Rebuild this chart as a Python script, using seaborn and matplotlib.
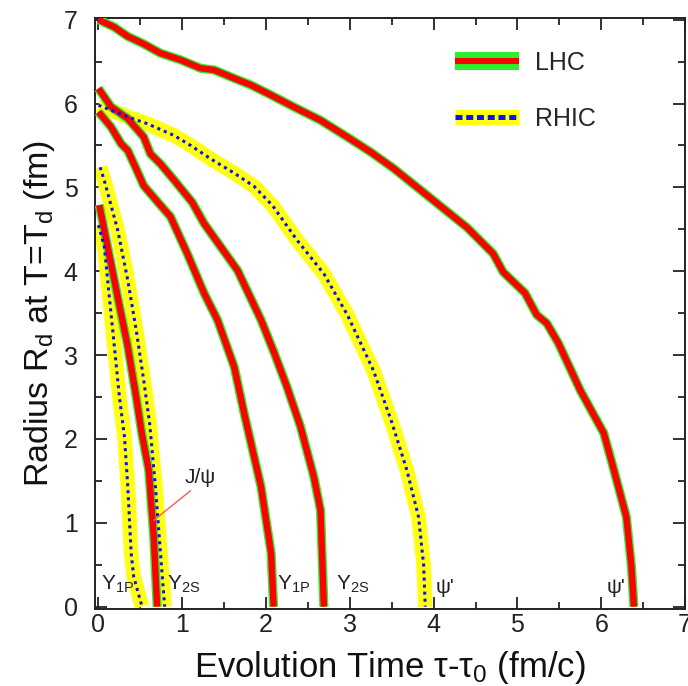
import numpy as np
import pandas as pd
import matplotlib
matplotlib.use("Agg")
import matplotlib.pyplot as plt
import seaborn as sns
from matplotlib.lines import Line2D
from matplotlib.legend_handler import HandlerTuple
from matplotlib.ticker import MultipleLocator

# ---------------- data ----------------
# LHC curves (time tau - tau0 in fm/c, radius R_d in fm)
lhc_psi2_t = [0.0, 0.19, 0.35, 0.54, 0.74, 0.98, 1.22, 1.38, 1.62, 1.82, 2.06, 2.33, 2.65, 2.97,
              3.25, 3.53, 4.04, 4.40, 4.71, 4.83, 5.09, 5.23, 5.35, 5.49, 5.75, 6.03, 6.14, 6.30, 6.36, 6.39]
lhc_psi2_r = [7.0, 6.91, 6.80, 6.71, 6.60, 6.52, 6.42, 6.40, 6.30, 6.22, 6.10, 5.96, 5.80, 5.60,
              5.42, 5.22, 4.81, 4.52, 4.21, 3.99, 3.74, 3.48, 3.38, 3.14, 2.58, 2.07, 1.67, 1.07, 0.48, 0.0]

lhc_y2s_t = [0.0, 0.15, 0.35, 0.54, 0.62, 0.74, 0.90, 1.12, 1.26, 1.46, 1.66, 1.94, 2.10, 2.25,
             2.41, 2.57, 2.65, 2.69]
lhc_y2s_r = [6.18, 5.96, 5.82, 5.60, 5.40, 5.28, 5.09, 4.82, 4.57, 4.29, 4.01, 3.42, 3.02, 2.62,
             2.15, 1.55, 1.15, 0.0]

lhc_y1p_t = [0.0, 0.15, 0.27, 0.35, 0.46, 0.54, 0.72, 0.86, 1.06, 1.26, 1.42, 1.62, 1.74, 1.94, 2.06, 2.09]
lhc_y1p_r = [5.90, 5.72, 5.52, 5.44, 5.20, 5.02, 4.81, 4.65, 4.21, 3.74, 3.42, 2.86, 2.30, 1.43, 0.64, 0.0]

lhc_jpsi_t = [0.01, 0.11, 0.23, 0.35, 0.45, 0.52, 0.60, 0.66, 0.70]
lhc_jpsi_r = [4.79, 4.29, 3.69, 3.10, 2.50, 2.05, 1.63, 0.83, 0.0]

# RHIC curves
rhic_psi2_t = [0.0, 0.35, 0.58, 0.90, 1.10, 1.34, 1.62, 1.86, 2.08, 2.37, 2.69, 2.97, 3.28, 3.50,
               3.68, 3.82, 3.88, 3.90]
rhic_psi2_r = [5.98, 5.84, 5.76, 5.62, 5.50, 5.34, 5.17, 5.01, 4.78, 4.37, 3.97, 3.48, 2.82, 2.20,
               1.63, 1.07, 0.50, 0.0]

rhic_y2s_t = [0.02, 0.07, 0.23, 0.35, 0.45, 0.54, 0.61, 0.68, 0.74, 0.79]
rhic_y2s_r = [5.24, 5.08, 4.49, 3.89, 3.30, 2.70, 2.19, 1.43, 0.64, 0.0]

rhic_y1p_t = [0.0, 0.07, 0.13, 0.19, 0.25, 0.31, 0.35, 0.39, 0.42, 0.52]
rhic_y1p_r = [4.55, 4.29, 3.69, 3.10, 2.50, 2.03, 1.43, 0.64, 0.36, 0.0]

# state labels
state_labels = ["Y$_{1P}$", "Y$_{2S}$", "Y$_{1P}$", "Y$_{2S}$", "ψ'", "ψ'"]
state_label_t = [0.03, 0.82, 2.13, 2.83, 4.02, 6.07]
state_label_r = [0.20, 0.20, 0.20, 0.20, 0.16, 0.16]

legend_labels = ["LHC", "RHIC"]
x_ticks = [0, 1, 2, 3, 4, 5, 6, 7]
y_ticks = [0, 1, 2, 3, 4, 5, 6, 7]

# ---------------- style ----------------
sns.set_style("ticks")
plt.rcParams["font.family"] = ["Liberation Sans", "DejaVu Sans"]
plt.rcParams["mathtext.default"] = "regular"

GREEN = "#2cf02c"
RED = "#ff0000"
YELLOW = "#ffff10"
BLUE = "#1010ee"

fig = plt.figure(figsize=(6.88, 6.86), dpi=100)
ax = fig.add_axes([0.1374, 0.1118, 0.8583, 0.862])

rhic = [(rhic_psi2_t, rhic_psi2_r), (rhic_y2s_t, rhic_y2s_r), (rhic_y1p_t, rhic_y1p_r)]
lhc = [(lhc_psi2_t, lhc_psi2_r), (lhc_y2s_t, lhc_y2s_r), (lhc_y1p_t, lhc_y1p_r), (lhc_jpsi_t, lhc_jpsi_r)]

for t, r in rhic:
    sns.lineplot(x=t, y=r, sort=False, estimator=None, color=YELLOW, lw=10.5,
                 solid_capstyle="butt", solid_joinstyle="round", ax=ax, zorder=2)
for t, r in lhc:
    sns.lineplot(x=t, y=r, sort=False, estimator=None, color=GREEN, lw=6.6,
                 solid_capstyle="butt", solid_joinstyle="round", ax=ax, zorder=3)
    sns.lineplot(x=t, y=r, sort=False, estimator=None, color=RED, lw=4.6,
                 solid_capstyle="butt", solid_joinstyle="round", ax=ax, zorder=4)
for t, r in rhic:
    sns.lineplot(x=t, y=r, sort=False, estimator=None, color=BLUE, lw=2.2,
                 linestyle=(0, (1, 1.3)), ax=ax, zorder=5)

ax.set_xlim(-0.047, 7.0)
ax.set_ylim(-0.031, 7.02)
ax.set_xticks(x_ticks)
ax.set_yticks(y_ticks)
ax.xaxis.set_minor_locator(MultipleLocator(0.5))
ax.yaxis.set_minor_locator(MultipleLocator(0.5))
ax.tick_params(which="both", direction="in", top=True, right=True, colors="#222222",
               width=1.3)
ax.tick_params(which="major", length=8.5, labelsize=18)
ax.tick_params(axis="x", which="major", pad=3)
ax.tick_params(axis="y", which="major", pad=12)
ax.tick_params(which="minor", length=5)
for s in ax.spines.values():
    s.set_color("#222222")
    s.set_linewidth(1.4)

ax.set_xlabel("Evolution Time τ-τ$_0$ (fm/c)", fontsize=25, labelpad=8, color="#111111")
ax.set_ylabel("Radius R$_d$ at T=T$_d$ (fm)", fontsize=24.5, labelpad=5, color="#111111")

for lab, t, r in zip(state_labels, state_label_t, state_label_r):
    ax.text(t, r, lab, fontsize=15, ha="left", va="baseline", color="#222222", zorder=6)

ax.annotate("J/ψ", xy=(0.66, 1.03), xytext=(1.21, 1.47), fontsize=15, ha="center",
            va="baseline", color="#222222",
            arrowprops=dict(arrowstyle="-", color="#ff5a5a", lw=1.0, shrinkA=0, shrinkB=0,
                            relpos=(0.5, 0.22)), zorder=6)

lhc_handle = (Line2D([], [], color=GREEN, lw=13, solid_capstyle="butt"),
              Line2D([], [], color=RED, lw=4.4, solid_capstyle="butt"))
rhic_handle = (Line2D([], [], color=YELLOW, lw=11, solid_capstyle="butt"),
               Line2D([], [], color=BLUE, lw=3.6, linestyle=(0, (1.4, 0.75))))
ax.legend([lhc_handle, rhic_handle], legend_labels,
          handler_map={tuple: HandlerTuple(ndivide=1, pad=0)},
          loc="upper left", bbox_to_anchor=(0.6105, 0.944), frameon=False,
          fontsize=18, handlelength=2.56, handletextpad=0.64, labelspacing=1.27,
          borderpad=0, borderaxespad=0)

fig.savefig("out.png", dpi=100)
